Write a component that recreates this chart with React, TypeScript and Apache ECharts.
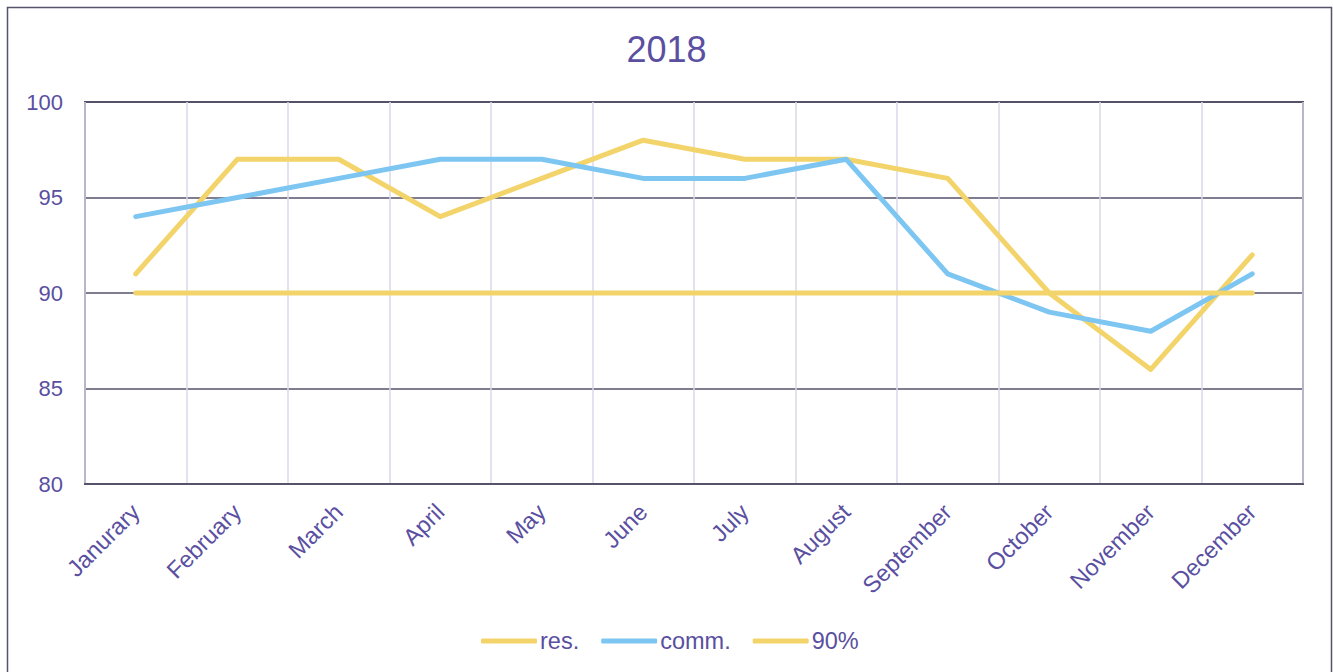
import React, { useEffect, useRef } from "react";
import * as echarts from "echarts";

const months = ["Janurary", "February", "March", "April", "May", "June", "July", "August", "September", "October", "November", "December"];
const resValues = [91, 97, 97, 94, 96, 98, 97, 97, 96, 90, 86, 92];
const commValues = [94, 95, 96, 97, 97, 96, 96, 97, 91, 89, 88, 91];
const targetValues = [90, 90, 90, 90, 90, 90, 90, 90, 90, 90, 90, 90];
const seriesNames = ["res.", "comm.", "90%"];
const titleText = "2018";

const TEXT = "#5a4fa0";
const DARK = "#55526a";
const YELLOW = "#f3d46b";
const BLUE = "#7ec6f2";
const FONT = "'Liberation Sans', Arial, sans-serif";

export default function App() {
  const ref = useRef<HTMLDivElement>(null);
  useEffect(() => {
    if (!ref.current) return;
    const chart = echarts.init(ref.current, null, { renderer: "svg" });
    const lineSeries = (name: string, data: number[], color: string) => ({
      name,
      type: "line",
      data,
      symbol: "none",
      color,
      lineStyle: { width: 5, color, cap: "round", join: "round" },
    });
    chart.setOption({
      animation: false,
      backgroundColor: "#ffffff",
      textStyle: { fontFamily: FONT },
      title: {
        text: titleText,
        left: "center",
        top: 26,
        textStyle: { color: TEXT, fontSize: 36, fontWeight: "normal", fontFamily: FONT },
      },
      graphic: [
        {
          type: "rect",
          shape: { x: 7.5, y: 7.5, width: 1324, height: 700 },
          style: { fill: "none", stroke: DARK, lineWidth: 1.5 },
          silent: true,
        },
      ],
      legend: {
        bottom: 14,
        left: 476,
        itemWidth: 56,
        itemHeight: 5,
        itemGap: 22,
        icon: "roundRect",
        textStyle: { color: TEXT, fontSize: 23.5, fontFamily: FONT, padding: [0, 0, 0, -2] },
        data: seriesNames,
      },
      grid: {
        left: 85,
        right: 30,
        top: 102,
        bottom: 188,
        show: true,
        borderColor: DARK,
        borderWidth: 2,
      },
      xAxis: {
        type: "category",
        data: months,
        boundaryGap: true,
        axisLine: { show: true, lineStyle: { color: DARK, width: 2 } },
        axisTick: { show: false },
        axisLabel: { color: TEXT, fontSize: 23.5, rotate: 45, margin: 24, interval: 0, fontFamily: FONT },
        splitLine: { show: true, interval: 0, lineStyle: { color: "#dcd8ea", width: 1.5 } },
      },
      yAxis: {
        type: "value",
        min: 80,
        max: 100,
        interval: 5,
        axisLine: { show: false },
        axisTick: { show: false },
        axisLabel: { color: TEXT, fontSize: 22, margin: 22, fontFamily: FONT },
        splitLine: { show: true, lineStyle: { color: DARK, width: 1.5 } },
      },
      series: [
        lineSeries(seriesNames[0], resValues, YELLOW),
        lineSeries(seriesNames[1], commValues, BLUE),
        lineSeries(seriesNames[2], targetValues, YELLOW),
      ],
    });
    return () => chart.dispose();
  }, []);
  return (
    <div style={{ position: "absolute", left: 0, top: 0, width: 1333, height: 672, background: "#fff" }}>
      <div ref={ref} style={{ width: 1333, height: 672 }} />
    </div>
  );
}
